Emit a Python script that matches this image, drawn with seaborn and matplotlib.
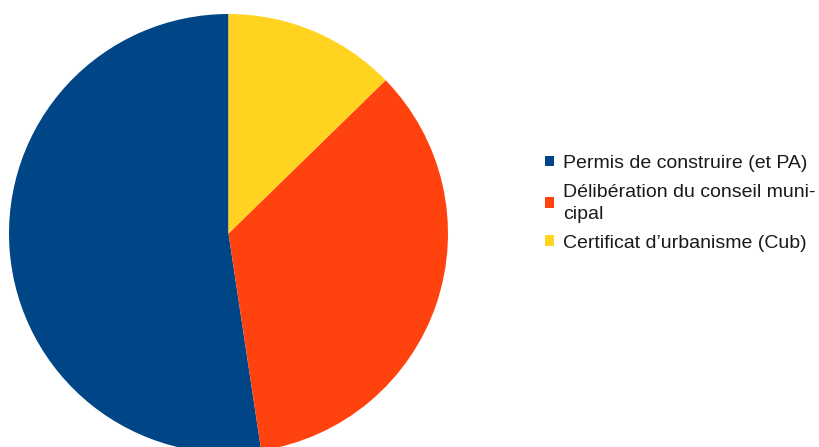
import matplotlib
matplotlib.use("Agg")
import matplotlib.pyplot as plt
from matplotlib.patches import Patch
import seaborn as sns

categories = ["Permis de construire (et PA)",
              "Délibération du conseil muni-\ncipal",
              "Certificat d’urbanisme (Cub)"]
counts = [33, 22, 8]
colors = ["#004586", "#ff420e", "#ffd320"]

sns.set_theme(style="white")
plt.rcParams["font.family"] = ["Liberation Sans", "DejaVu Sans"]

W, H = 820, 447
fig = plt.figure(figsize=(W / 100, H / 100), dpi=100)
cx, cy, r = 228.5, 233.5, 219.5
ax = fig.add_axes([(cx - r) / W, (H - cy - r) / H, 2 * r / W, 2 * r / H])
ax.pie(counts, colors=colors, startangle=90, counterclock=True,
       wedgeprops=dict(linewidth=0))
ax.set_xlim(-1, 1)
ax.set_ylim(-1, 1)
ax.set_aspect("auto")
ax.axis("off")

handles = [Patch(facecolor=c, edgecolor="none") for c in colors]
leg = fig.legend(handles, categories, loc="upper left",
                 bbox_to_anchor=(545 / W, 1 - 155 / H), frameon=False,
                 fontsize=14, handlelength=0.47, handleheight=0.47,
                 handletextpad=0.45, labelspacing=0.6, borderpad=0,
                 borderaxespad=0, labelcolor="#1a1a1a")
for t in leg.get_texts():
    t.set_linespacing(1.4)

fig.savefig("out.png", dpi=100, facecolor="white")
